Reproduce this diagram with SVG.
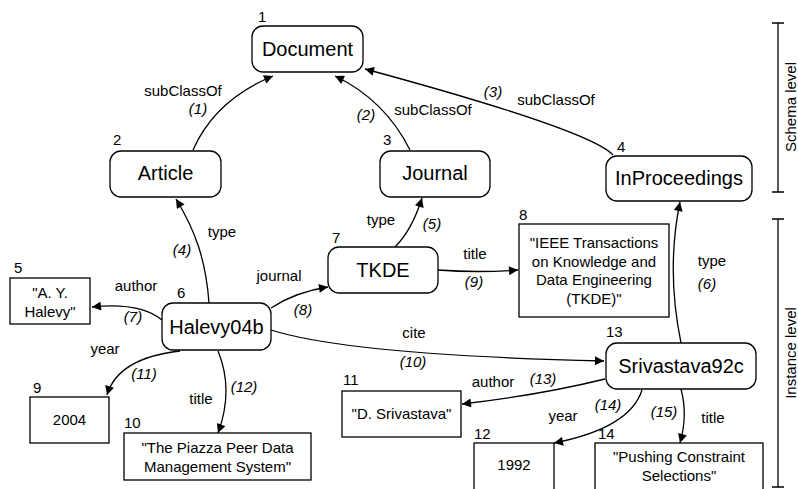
<svg xmlns="http://www.w3.org/2000/svg" width="798" height="489" viewBox="0 0 798 489">
<defs>
<marker id="ah" viewBox="0 0 10 10" refX="10" refY="5" markerWidth="11" markerHeight="9" markerUnits="userSpaceOnUse" orient="auto">
<path d="M0,0 L10,5 L0,10 z" fill="#000"/>
</marker>
<style>
text{font-family:"Liberation Sans",Arial,sans-serif;fill:#000}
.n{font-size:20px;text-anchor:middle}
.s{font-size:15px;text-anchor:middle}
.i{font-size:15px}
.e{font-size:15px;text-anchor:middle}
.p{font-size:15px;text-anchor:middle;font-style:italic}
.rr{fill:#fff;stroke:#000;stroke-width:1.3}
.bx{fill:#fff;stroke:#000;stroke-width:1.3}
.c path{fill:none;stroke:#000;stroke-width:1.3;marker-end:url(#ah)}
.bar{stroke:#000;stroke-width:1.3;fill:none}
</style>
</defs>
<rect width="798" height="489" fill="#fff"/>

<g id="connectors" class="c">
<path d="M193,150 Q215,100 273,76"/>
<path d="M410,150 Q385,100 335,76"/>
<path d="M613,155 Q590,130 365,69"/>
<path d="M209,303 C206,260 195,230 176,199"/>
<path d="M395,247 Q412,230 422,198"/>
<path d="M681,343 Q666,270 680,202"/>
<path d="M162,320 Q140,302 92,307"/>
<path d="M271,308 Q295,292 328,287"/>
<path d="M438,270 Q478,273 518,270"/>
<path d="M271,330 Q350,355 604,361"/>
<path d="M180,351 Q118,358 107,395"/>
<path d="M218,351 Q234,390 218,433"/>
<path d="M605,379 Q540,395 462,404"/>
<path d="M642,390 Q630,428 554,443"/>
<path d="M681,389 Q688,415 680,443"/>
</g>

<g id="edge-labels">
<text class="e" x="183" y="96">subClassOf</text>
<text class="p" x="198" y="114">(1)</text>
<text class="p" x="366" y="120">(2)</text>
<text class="e" x="433" y="115">subClassOf</text>
<text class="p" x="493" y="97">(3)</text>
<text class="e" x="556" y="105">subClassOf</text>
<text class="e" x="222" y="237">type</text>
<text class="p" x="182" y="255">(4)</text>
<text class="e" x="381" y="225">type</text>
<text class="p" x="432" y="229">(5)</text>
<text class="e" x="712" y="266">type</text>
<text class="p" x="707" y="289">(6)</text>
<text class="e" x="136" y="291">author</text>
<text class="p" x="133" y="322">(7)</text>
<text class="e" x="279" y="281">journal</text>
<text class="p" x="303" y="315">(8)</text>
<text class="e" x="475" y="259">title</text>
<text class="p" x="474" y="287">(9)</text>
<text class="e" x="414" y="338">cite</text>
<text class="p" x="413" y="367">(10)</text>
<text class="e" x="105" y="354">year</text>
<text class="p" x="144" y="379">(11)</text>
<text class="p" x="244" y="392">(12)</text>
<text class="e" x="201" y="404">title</text>
<text class="e" x="493" y="387">author</text>
<text class="p" x="543" y="384">(13)</text>
<text class="p" x="608" y="410">(14)</text>
<text class="e" x="563" y="421">year</text>
<text class="p" x="664" y="417">(15)</text>
<text class="e" x="713" y="423">title</text>
</g>

<g id="node1">
<rect class="rr" x="252" y="26" width="111" height="46" rx="11"/>
<text class="n" x="307.5" y="56">Document</text>
<text class="i" x="258" y="22">1</text>
</g>
<g id="node2">
<rect class="rr" x="110" y="151" width="111" height="46" rx="11"/>
<text class="n" x="165.5" y="180">Article</text>
<text class="i" x="113" y="145">2</text>
</g>
<g id="node3">
<rect class="rr" x="380" y="151" width="110" height="46" rx="11"/>
<text class="n" x="435" y="180">Journal</text>
<text class="i" x="383" y="145">3</text>
</g>
<g id="node4">
<rect class="rr" x="606" y="156" width="146" height="45" rx="11"/>
<text class="n" x="679" y="185">InProceedings</text>
<text class="i" x="617" y="152">4</text>
</g>
<g id="node5">
<rect class="bx" x="10" y="278" width="80" height="46"/>
<text class="s" x="50" y="298">"A. Y.</text>
<text class="s" x="50" y="317">Halevy"</text>
<text class="i" x="14" y="273">5</text>
</g>
<g id="node6">
<rect class="rr" x="162" y="303" width="109" height="47" rx="11"/>
<text class="n" x="216.5" y="334">Halevy04b</text>
<text class="i" x="177" y="298">6</text>
</g>
<g id="node7">
<rect class="rr" x="328" y="247" width="110" height="46" rx="11"/>
<text class="n" x="383" y="277">TKDE</text>
<text class="i" x="332" y="243">7</text>
</g>
<g id="node8">
<rect class="bx" x="519" y="224" width="150" height="93"/>
<text class="s" x="594" y="248">"IEEE Transactions</text>
<text class="s" x="594" y="266.5">on Knowledge and</text>
<text class="s" x="594" y="285">Data Engineering</text>
<text class="s" x="594" y="303.5">(TKDE)"</text>
<text class="i" x="519" y="220">8</text>
</g>
<g id="node9">
<rect class="bx" x="30" y="397" width="79" height="46"/>
<text class="s" x="69.5" y="425">2004</text>
<text class="i" x="33" y="393">9</text>
</g>
<g id="node10">
<rect class="bx" x="124" y="433" width="187" height="47"/>
<text class="s" x="217.5" y="453">"The Piazza Peer Data</text>
<text class="s" x="217.5" y="472">Management System"</text>
<text class="i" x="124" y="428">10</text>
</g>
<g id="node11">
<rect class="bx" x="342" y="391" width="119" height="46"/>
<text class="s" x="401.5" y="419">"D. Srivastava"</text>
<text class="i" x="343" y="385">11</text>
</g>
<g id="node12">
<rect class="bx" x="474" y="443" width="80" height="60"/>
<text class="s" x="514" y="470">1992</text>
<text class="i" x="474" y="439">12</text>
</g>
<g id="node13">
<rect class="rr" x="606" y="343" width="150" height="46" rx="11"/>
<text class="n" x="681" y="373">Srivastava92c</text>
<text class="i" x="606" y="337">13</text>
</g>
<g id="node14">
<rect class="bx" x="595" y="443" width="168" height="60"/>
<text class="s" x="679" y="462">"Pushing Constraint</text>
<text class="s" x="679" y="481">Selections"</text>
<text class="i" x="598" y="439">14</text>
</g>

<g id="levels">
<path class="bar" d="M778,23 V192 M772,23 H784 M772,192 H784"/>
<text class="s" transform="translate(796,107) rotate(-90)">Schema level</text>
<path class="bar" d="M778,219 V487 M772,219 H784 M772,487 H784"/>
<text class="s" transform="translate(796,353) rotate(-90)">Instance level</text>
</g>
</svg>
